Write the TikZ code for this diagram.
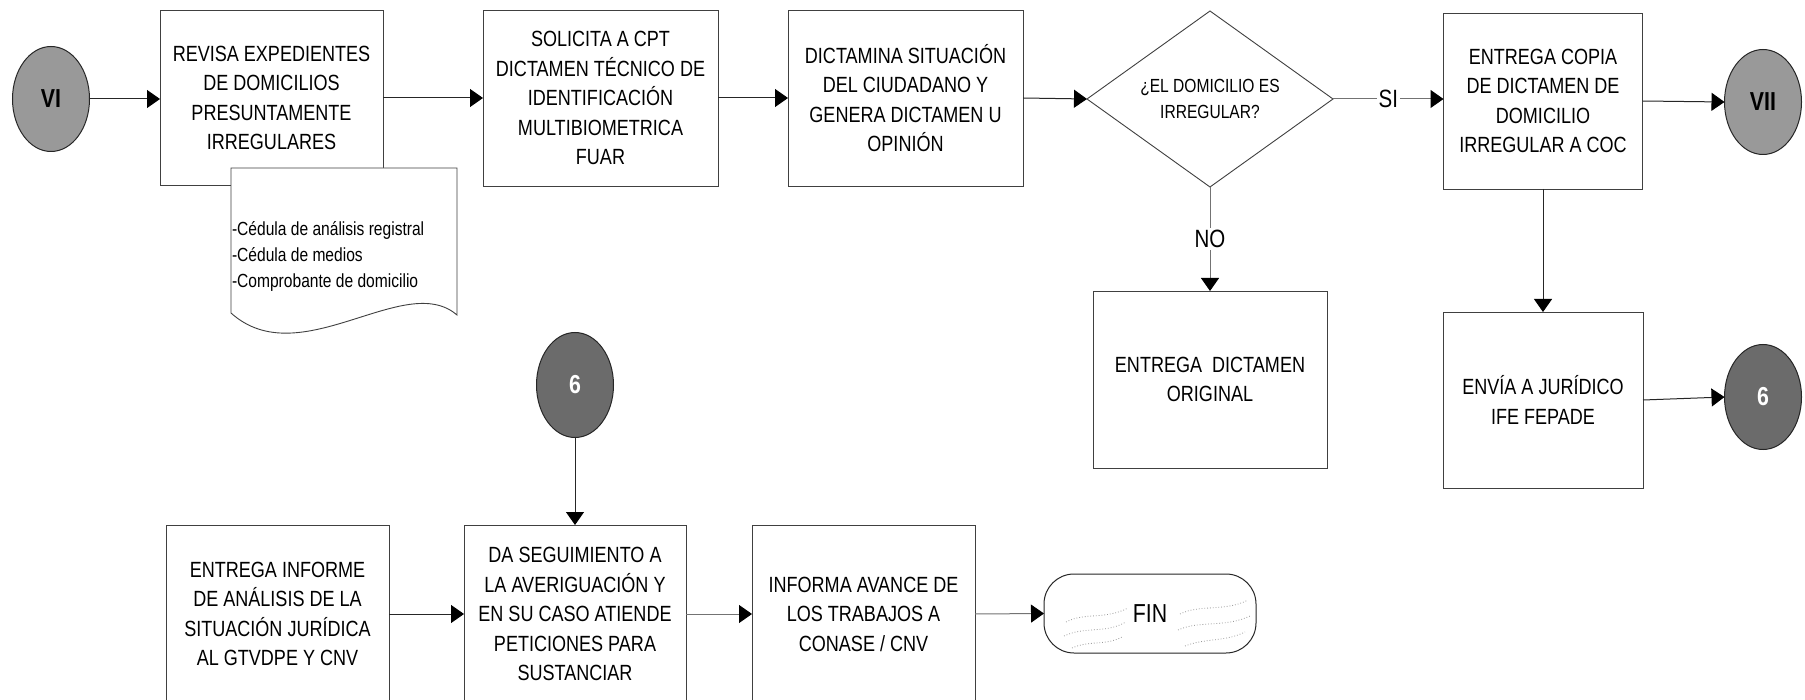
\documentclass[tikz,border=0pt]{standalone}
\usepackage{fontspec}
\setmainfont{Liberation Sans}[FakeStretch=0.82]
\usetikzlibrary{shapes.geometric,arrows.meta}

\begin{document}
\begin{tikzpicture}[x=1pt,y=-1pt,
  every node/.style={inner sep=0pt, outer sep=0pt},
  proc/.style={draw=black!75, line width=0.9pt, fill=white, rectangle, align=center,
    font=\fontsize{22}{29.5}\selectfont},
  decision/.style={draw=black!75, line width=0.9pt, diamond, aspect=1.4, align=center,
    font=\fontsize{19}{26}\selectfont, minimum width=246pt, minimum height=176pt},
  connector/.style={draw=black!85, line width=1pt, ellipse, minimum width=77pt,
    minimum height=105pt, font=\bfseries\fontsize{26}{30}\selectfont},
  refdot/.style={connector, fill=black!40, text=black},
  refdark/.style={connector, fill=black!58, text=white},
  terminal/.style={draw=black!85, line width=1pt, rectangle, rounded corners=30pt,
    minimum width=212pt, minimum height=79pt, font=\fontsize{26}{30}\selectfont},
  flow/.style={draw=black!85, line width=1pt, -{Triangle[length=13pt,width=18pt,color=black]}},
  lightflow/.style={flow, draw=black!55},
  lbl/.style={fill=white, inner sep=2pt, font=\fontsize{25}{30}\selectfont},
  docline/.style={draw=black!75, line width=0.9pt, fill=white},
  hatch/.style={draw=black!40, line width=0.8pt, dotted}
]
\path[fill=white, use as bounding box] (0,0) rectangle (1805,700);
\clip (0,0) rectangle (1805,700);

% upper row
\node[refdot] (vi) at (51,99) {VI};
\node[proc, minimum width=223pt, minimum height=175pt] (revisa) at (271.5,98)
  {REVISA EXPEDIENTES\\DE DOMICILIOS\\PRESUNTAMENTE\\IRREGULARES};

% supporting documents
\draw[docline] (231,168) -- (457,168) -- (457,315)
  .. controls (405,270) and (300,375) .. (231,313) -- cycle;
\node[anchor=west, align=left, font=\fontsize{19}{26}\selectfont] (docs) at (232,256)
  {-Cédula de análisis registral\\-Cédula de medios\\-Comprobante de domicilio};

\node[proc, minimum width=235pt, minimum height=176pt] (solicita) at (600.5,98)
  {SOLICITA A CPT\\DICTAMEN TÉCNICO DE\\IDENTIFICACIÓN\\MULTIBIOMETRICA\\FUAR};
\node[proc, minimum width=235pt, minimum height=176pt] (dictamina) at (905.5,98)
  {DICTAMINA SITUACIÓN\\DEL CIUDADANO Y\\GENERA DICTAMEN U\\OPINIÓN};
\node[decision] (irreg) at (1210,99) {¿EL DOMICILIO ES\\IRREGULAR?};
\node[proc, minimum width=199pt, minimum height=176pt] (copia) at (1543,101)
  {ENTREGA COPIA\\DE DICTAMEN DE\\DOMICILIO\\IRREGULAR A COC};
\node[refdot] (vii) at (1763,102) {VII};

% middle
\node[proc, minimum width=234pt, minimum height=177pt] (original) at (1210,379.5)
  {ENTREGA\ \ DICTAMEN\\ORIGINAL};
\node[proc, minimum width=200pt, minimum height=176pt] (envia) at (1543,400)
  {ENVÍA A JURÍDICO\\IFE FEPADE};
\node[refdark] (sixr) at (1763,397) {6};
\node[refdark] (sixm) at (575,385) {6};

% lower row
\node[proc, minimum width=223pt, minimum height=178pt] (informe) at (277.5,614)
  {ENTREGA INFORME\\DE ANÁLISIS DE LA\\SITUACIÓN JURÍDICA\\AL GTVDPE Y CNV};
\node[proc, minimum width=222pt, minimum height=178pt] (seguimiento) at (575,614)
  {DA SEGUIMIENTO A\\LA AVERIGUACIÓN Y\\EN SU CASO ATIENDE\\PETICIONES PARA\\SUSTANCIAR};
\node[proc, minimum width=223pt, minimum height=178pt] (avance) at (863.5,614)
  {INFORMA AVANCE DE\\LOS TRABAJOS A\\CONASE / CNV};
\node[terminal] (fin) at (1150,613.5) {FIN};

% faint texture inside the terminal
\draw[hatch] (1066,622) .. controls (1085,612) and (1105,620) .. (1128,608);
\draw[hatch] (1064,636) .. controls (1085,626) and (1105,634) .. (1126,622);
\draw[hatch] (1072,648) .. controls (1090,640) and (1105,646) .. (1122,637);
\draw[hatch] (1180,614) .. controls (1200,604) and (1225,612) .. (1248,600);
\draw[hatch] (1178,630) .. controls (1200,620) and (1225,628) .. (1250,616);
\draw[hatch] (1185,646) .. controls (1205,638) and (1225,642) .. (1245,632);

% connectors
\draw[flow] (vi.east) -- (vi.east -| revisa.west);
\draw[flow] (revisa.east) -- (solicita.west);
\draw[flow] (solicita.east) -- (dictamina.west);
\draw[flow] (dictamina.east) -- (irreg.west);
\draw[lightflow] (irreg.east) -- node[lbl] {SI} (irreg.east -| copia.west);
\draw[flow] (copia.east) -- (vii.west);
\draw[lightflow] (irreg.south) -- node[lbl] {NO} (original.north);
\draw[flow] (copia.south) -- (envia.north);
\draw[flow] (envia.east) -- (sixr.west);
\draw[flow] (sixm.south) -- (seguimiento.north);
\draw[flow] (informe.east) -- (seguimiento.west);
\draw[lightflow] (seguimiento.east) -- (avance.west);
\draw[lightflow] (avance.east) -- (fin.west);
\end{tikzpicture}
\end{document}
